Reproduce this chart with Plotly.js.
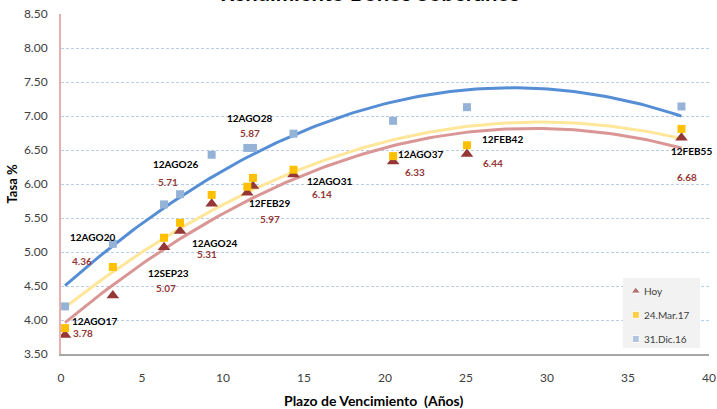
<!DOCTYPE html>
<html>
<head>
<meta charset="utf-8">
<script src="https://cdn.plot.ly/plotly-3.0.1.min.js"></script>
<style>html,body{margin:0;padding:0;background:#fff;}#chart{width:717px;height:409px;}</style>
</head>
<body>
<div id="chart"></div>
<script>
// ---- data ----
const bonds  = ['12AGO17','12AGO20','12SEP23','12AGO24','12AGO26','12AGO28','12FEB29','12AGO31','12AGO37','12FEB42','12FEB55'];
const plazo  = [0.25, 3.2, 6.36, 7.35, 9.3, 11.5, 11.85, 14.35, 20.5, 25.06, 38.3];
const hoy    = [3.78, 4.36, 5.07, 5.31, 5.71, 5.87, 5.97, 6.14, 6.33, 6.44, 6.68];
const mar17  = [3.88, 4.78, 5.21, 5.43, 5.84, 5.96, 6.09, 6.21, 6.41, 6.57, 6.81];
const dic16  = [4.20, 5.12, 5.70, 5.85, 6.43, 6.53, 6.53, 6.74, 6.93, 7.13, 7.14];
const seriesNames = ['Hoy', '24.Mar.17', '31.Dic.16'];
const yTicks = [3.5, 4.0, 4.5, 5.0, 5.5, 6.0, 6.5, 7.0, 7.5, 8.0, 8.5];
const xTicks = [0, 5, 10, 15, 20, 25, 30, 35, 40];

// ---- style / placement ----
const xRange = [0, 40], yRange = [3.5, 8.5];
const colors  = {hoy:'#953735', mar:'#FFC000', dic:'#95B3D7', tHoy:'#D99694', tMar:'#FFE699', tDic:'#558ED5'};
const nameOff = [[29,14],[-20,59],[4,-26],[34,-12],[-36,40],[2,75],[17,-17],[36,-7],[27,8],[36,15],[10,-13]];
const valOff  = [[18,2],[-31,35],[2,-41],[27,-23],[-44,22],[3,60],[17,-33],[29,-20],[22,-10],[26,-9],[6,-39]];
// legend box (fractions of plot area)
const legBox = {x0:0.867, x1:0.986, y0:0.018, y1:0.2235};
const legMarkX = 0.887, legTextX = 0.897, legRowsY = [0.185, 0.115, 0.044];
const fx = f => xRange[0] + f*(xRange[1]-xRange[0]);
const fy = f => yRange[0] + f*(yRange[1]-yRange[0]);

// quadratic least-squares trendline (as the spreadsheet's polynomial trendline)
function polyFit2(xs, ys) {
  let n = xs.length, s1=0,s2=0,s3=0,s4=0,t0=0,t1=0,t2=0;
  for (let i=0;i<n;i++){const x=xs[i],y=ys[i];s1+=x;s2+=x*x;s3+=x*x*x;s4+=x*x*x*x;t0+=y;t1+=x*y;t2+=x*x*y;}
  const A=[[n,s1,s2,t0],[s1,s2,s3,t1],[s2,s3,s4,t2]];
  for (let c=0;c<3;c++){
    for (let r=c+1;r<3;r++){const f=A[r][c]/A[c][c];for(let k=c;k<4;k++)A[r][k]-=f*A[c][k];}
  }
  const b=[0,0,0];
  for (let r=2;r>=0;r--){let s=A[r][3];for(let k=r+1;k<3;k++)s-=A[r][k]*b[k];b[r]=s/A[r][r];}
  return b;
}
function trend(xs, ys) {
  const b = polyFit2(xs, ys);
  const x0 = Math.min(...xs), x1 = Math.max(...xs);
  const tx=[], ty=[];
  for (let i=0;i<=120;i++){const x=x0+(x1-x0)*i/120;tx.push(x);ty.push(b[0]+b[1]*x+b[2]*x*x);}
  return {x:tx, y:ty};
}

const font = 'Lato, "Open Sans", "DejaVu Sans", sans-serif';
const tDic = trend(plazo, dic16), tMar = trend(plazo, mar17), tHoy = trend(plazo, hoy);

const traces = [
  {x:tDic.x, y:tDic.y, mode:'lines', line:{color:colors.tDic, width:3}, showlegend:false, hoverinfo:'skip'},
  {x:tMar.x, y:tMar.y, mode:'lines', line:{color:colors.tMar, width:3}, showlegend:false, hoverinfo:'skip'},
  {x:tHoy.x, y:tHoy.y, mode:'lines', line:{color:colors.tHoy, width:3}, showlegend:false, hoverinfo:'skip'},
  {x:plazo, y:hoy, name:seriesNames[0], mode:'markers', showlegend:false,
   marker:{symbol:'triangle-up', size:11, color:colors.hoy}},
  {x:plazo, y:mar17, name:seriesNames[1], mode:'markers', showlegend:false,
   marker:{symbol:'square', size:8, color:colors.mar}},
  {x:plazo, y:dic16, name:seriesNames[2], mode:'markers', showlegend:false,
   marker:{symbol:'square', size:8, color:colors.dic}},
  // legend keys, drawn on an auxiliary 0..1 axis pair covering the plot area
  {x:[legMarkX,legMarkX,legMarkX], y:legRowsY, xaxis:'x2', yaxis:'y2', mode:'markers', showlegend:false, hoverinfo:'skip',
   marker:{symbol:['triangle-up','square','square'], size:[8,7,7], color:[colors.hoy, colors.mar, colors.dic]}}
];

const annotations = [];
bonds.forEach((b, i) => {
  annotations.push({x:plazo[i], y:hoy[i], xref:'x', yref:'y', text:'<b>'+b+'</b>', showarrow:false,
    xshift:nameOff[i][0], yshift:nameOff[i][1], font:{family:font, size:10, color:'#000000'}});
  annotations.push({x:plazo[i], y:hoy[i], xref:'x', yref:'y', text:'<b>'+hoy[i].toFixed(2)+'</b>', showarrow:false,
    xshift:valOff[i][0], yshift:valOff[i][1], font:{family:font, size:10, color:colors.hoy}});
});
seriesNames.forEach((s, i) => {
  annotations.push({xref:'paper', yref:'paper', x:legTextX, y:legRowsY[i], xanchor:'left', yanchor:'middle',
    text:s, showarrow:false, font:{family:font, size:10, color:'#404040'}});
});
annotations.push({xref:'paper', yref:'paper', x:0.477, y:1.0185, xanchor:'center', yanchor:'bottom',
  text:'<b>Rendimiento Bonos Soberanos</b>', showarrow:false, font:{family:font, size:22, color:'#000000'}});
annotations.push({xref:'paper', yref:'paper', x:0.483, y:-0.105, xanchor:'center', yanchor:'top',
  text:'<b>Plazo de Vencimiento  (Años)</b>', showarrow:false, font:{family:font, size:14, color:'#000000'}});

const layout = {
  width:717, height:409,
  margin:{l:61, r:8, t:14, b:55, pad:0},
  paper_bgcolor:'#ffffff', plot_bgcolor:'rgba(0,0,0,0)',
  font:{family:font, size:12, color:'#404040'},
  showlegend:false,
  xaxis:{range:xRange, tickvals:xTicks, ticktext:xTicks.map(String), showgrid:false, zeroline:false,
    showline:true, linecolor:'#A6A6A6', linewidth:1.5, ticks:'outside', ticklen:12, tickcolor:'rgba(0,0,0,0)',
    tickfont:{family:font, size:12, color:'#404040'}, automargin:false, fixedrange:true},
  yaxis:{range:yRange, tickvals:yTicks, ticktext:yTicks.map(v=>v.toFixed(2)), showgrid:true,
    gridcolor:'#B9CDE5', griddash:'3px,2px', gridwidth:1, zeroline:false,
    showline:true, linecolor:'#E6B0AF', linewidth:2, ticks:'outside', ticklen:9, tickcolor:'rgba(0,0,0,0)',
    tickfont:{family:font, size:12, color:'#404040'}, automargin:false, fixedrange:true,
    title:{text:'<b>Tasa %</b>', standoff:3, font:{family:font, size:13, color:'#000000'}}},
  xaxis2:{overlaying:'x', range:[0,1], visible:false, fixedrange:true},
  yaxis2:{overlaying:'y', range:[0,1], visible:false, fixedrange:true},
  shapes:[{type:'rect', xref:'x', yref:'y', x0:fx(legBox.x0), x1:fx(legBox.x1), y0:fy(legBox.y0), y1:fy(legBox.y1),
    fillcolor:'#F2F2F2', line:{width:0}, layer:'between'}],
  annotations:annotations
};

Plotly.newPlot('chart', traces, layout, {displayModeBar:false, staticPlot:true});
</script>
</body>
</html>
